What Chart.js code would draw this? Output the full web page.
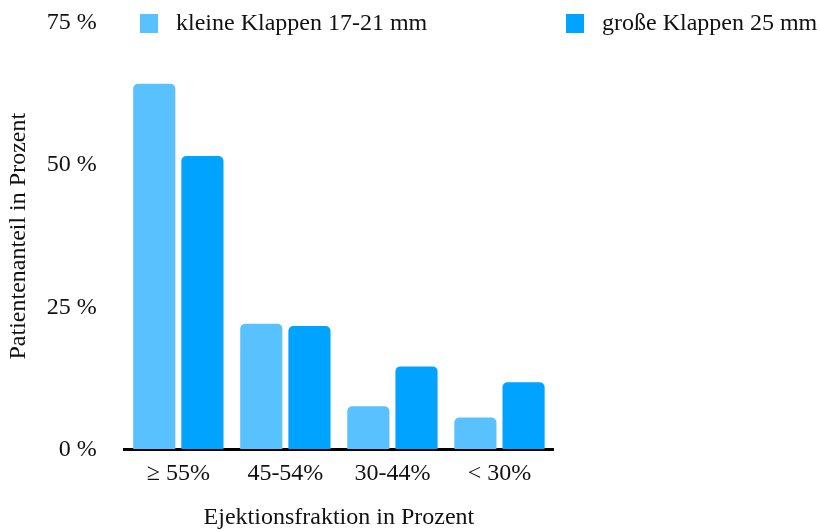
<!DOCTYPE html>
<html>
<head>
<meta charset="utf-8">
<script src="https://cdn.jsdelivr.net/npm/chart.js@4"></script>
<style>
  body { margin: 0; background: #fff; }
  #wrap { width: 820px; height: 532px; }
</style>
</head>
<body>
<div id="wrap"><canvas id="ef-chart" width="820" height="532"></canvas></div>
<script>
const categories = ['≥ 55%', '45-54%', '30-44%', '< 30%'];
const kleine_klappen = [64.3, 22.1, 7.6, 5.6];
const grosse_klappen = [51.6, 21.7, 14.6, 11.8];
const y_ticks = [0, 25, 50, 75];

const font_family = '"Liberation Serif", "Times New Roman", serif';
const text_color = '#111';

// legend drawn over the top row, spread like in the original
const top_legend = {
  id: 'top_legend',
  afterDraw(chart) {
    const ctx = chart.ctx;
    const spots = [140, 566];
    ctx.save();
    ctx.font = '24px ' + font_family;
    ctx.textBaseline = 'middle';
    ctx.textAlign = 'left';
    chart.data.datasets.forEach((ds, i) => {
      const x = spots[i];
      ctx.fillStyle = ds.backgroundColor;
      ctx.fillRect(x, 14, 18, 19);
      ctx.fillStyle = text_color;
      ctx.fillText(ds.label, x + 36, 24);
    });
    ctx.restore();
  }
};

const element = document.getElementById('ef-chart').getContext('2d');

new Chart(element, {
  type: 'bar',
  data: {
    labels: categories,
    datasets: [{
      label: 'kleine Klappen 17-21 mm',
      data: kleine_klappen,
      backgroundColor: '#5AC1FF',
      borderRadius: 5,
      categoryPercentage: 0.9,
      barPercentage: 0.875
    }, {
      label: 'große Klappen 25 mm',
      data: grosse_klappen,
      backgroundColor: '#00A3FF',
      borderRadius: 5,
      categoryPercentage: 0.9,
      barPercentage: 0.875
    }]
  },
  options: {
    responsive: false,
    animation: false,
    layout: {
      padding: { top: 23, right: 267, left: 0, bottom: 0 }
    },
    plugins: {
      legend: { display: false },
      tooltip: { enabled: false }
    },
    scales: {
      x: {
        grid: { display: false, drawTicks: false },
        border: { display: true, color: '#000', width: 3 },
        ticks: {
          color: text_color,
          padding: 10,
          font: { family: font_family, size: 24 }
        },
        title: {
          display: true,
          text: 'Ejektionsfraktion in Prozent',
          color: text_color,
          padding: { top: 5, bottom: 0 },
          font: { family: font_family, size: 24 }
        }
      },
      y: {
        min: 0,
        max: 75,
        afterBuildTicks: axis => { axis.ticks = y_ticks.map(v => ({ value: v })); },
        grid: {
          display: true,
          drawOnChartArea: false,
          drawTicks: true,
          tickLength: 28,
          color: 'rgba(0,0,0,0)'
        },
        border: { display: false },
        ticks: {
          color: text_color,
          padding: 0,
          font: { family: font_family, size: 24 },
          callback: value => value + ' %'
        },
        title: {
          display: true,
          text: 'Patientenanteil in Prozent',
          color: text_color,
          padding: { top: 4, bottom: 14 },
          font: { family: font_family, size: 24 }
        }
      }
    }
  },
  plugins: [top_legend]
});
</script>
</body>
</html>
